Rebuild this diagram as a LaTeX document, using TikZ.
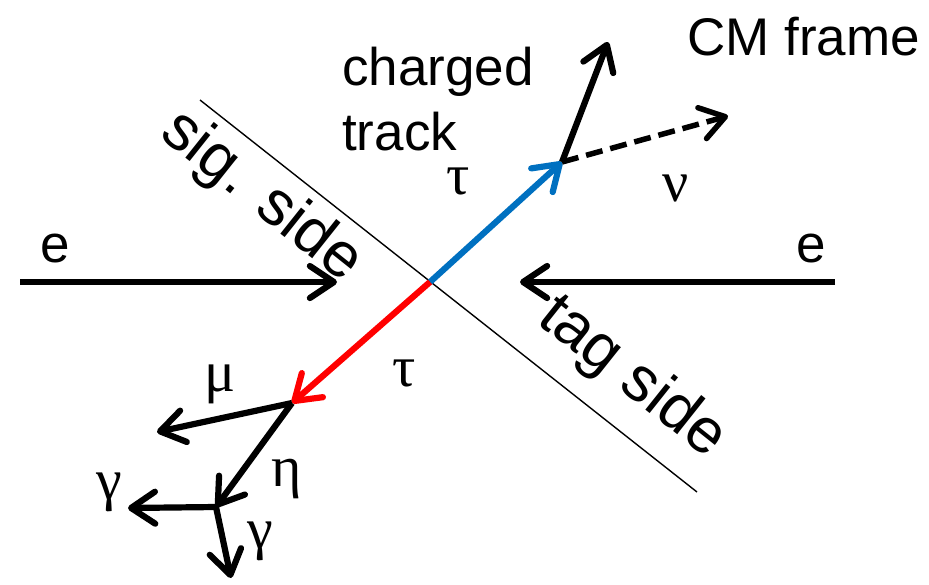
\documentclass[tikz,border=0pt]{standalone}
\usepackage{fontspec}
\setmainfont{Liberation Sans}
\newfontfamily\grk{Liberation Serif}
\usetikzlibrary{arrows.meta}
\begin{document}
\begin{tikzpicture}[x=1pt,y=-1pt,
  tip/.style={-{Straight Barb[length=24pt,width=32pt,round]}},
  thk/.style={line width=6.2pt},
  lbl/.style={inner sep=0pt,font=\fontsize{53}{64}\selectfont},
  side/.style={inner sep=0pt,rotate=-38.5,font=\fontsize{63}{70}\selectfont},
  gl/.style={inner sep=0pt,font=\grk\fontsize{58}{64}\selectfont}]
\definecolor{tblue}{RGB}{0,112,192}
\definecolor{tred}{RGB}{255,0,0}
\useasboundingbox (0,0) rectangle (929,584);
% vertices
\coordinate (c) at (430,282);
\coordinate (top) at (200,100);
\coordinate (bot) at (697,492);
\coordinate (eLs) at (20,282);
\coordinate (eLe) at (337,282);
\coordinate (eRs) at (835,282);
\coordinate (eRe) at (520,282);
\coordinate (v1) at (562,162);
\coordinate (trk) at (608,42);
\coordinate (nu) at (728,116);
\coordinate (v2) at (292,403);
\coordinate (mu) at (157,432);
\coordinate (v3) at (216,507);
\coordinate (g1) at (128,508);
\coordinate (g2) at (231,578);
% divider
\draw[line width=1.4pt] (top) -- (bot);
% beams
\draw[thk,tip] (eLs) -- (eLe);
\draw[thk,tip] (eRs) -- (eRe);
% taus
\draw[thk,tblue,tip] (c) -- (v1);
\draw[thk,tred,tip] (c) -- (v2);
% decays
\draw[thk,tip] (v1) -- (trk);
\draw[line width=5.5pt,dash pattern=on 17pt off 8pt,tip] (v1) -- (nu);
\draw[thk,tip] (v2) -- (mu);
\draw[thk,tip] (v2) -- (v3);
\draw[thk,tip] (v3) -- (g1);
\draw[thk,tip] (v3) -- (g2);
% labels
\node[lbl,anchor=base west] (ch) at (342,85) {charged};
\node[lbl,anchor=base west] (tr) at (342,150) {track};
\node[lbl,anchor=base west] (cm) at (687,55) {CM frame};
\node[lbl,anchor=base west] (el) at (40,262) {e};
\node[lbl,anchor=base west] (er) at (796,262) {e};
\node[side] (sig) at (261,197) {sig. side};
\node[side] (tag) at (632,378) {tag side};
\node[gl] (t1) at (458,181) {τ};
\node[gl] (t2) at (404,373) {τ};
\node[gl] (n) at (676,188) {ν};
\node[gl] (m) at (220,384) {μ};
\node[gl] (e) at (287,479) {η};
\node[gl] (ga) at (109,492) {γ};
\node[gl] (gb) at (260,541) {γ};
\end{tikzpicture}
\end{document}
